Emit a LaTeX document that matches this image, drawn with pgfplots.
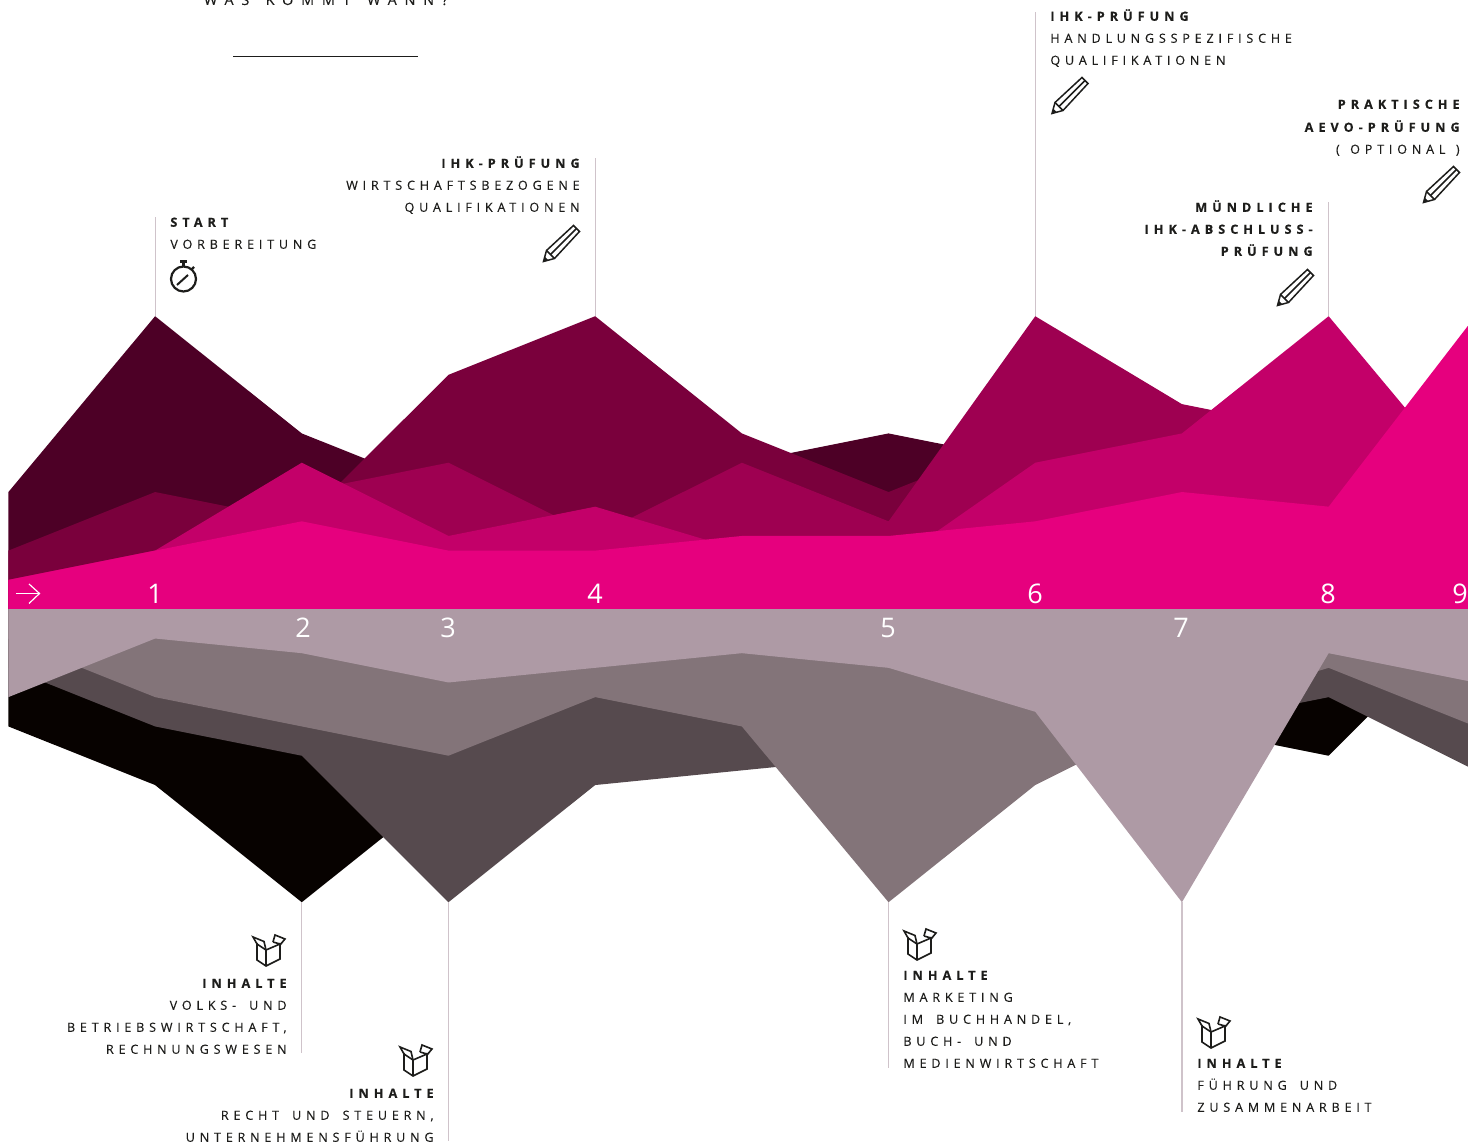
\documentclass[border=0pt]{standalone}
\usepackage{pgfplots}
\pgfplotsset{compat=1.18}
\usepackage{fontspec}
\setmainfont{Open Sans}
\newfontfamily\lbl[LetterSpace=38,FakeBold=0.2]{Open Sans}
\newfontfamily\lbb[LetterSpace=40,BoldFeatures={FakeBold=0.6}]{Open Sans}
\newfontfamily\ttl[LetterSpace=54,FakeBold=0.2]{Open Sans}
\newfontfamily\numf{Open Sans}
\definecolor{a1}{HTML}{4D0026}
\definecolor{a2}{HTML}{7A003C}
\definecolor{a3}{HTML}{9E0051}
\definecolor{a4}{HTML}{C30069}
\definecolor{a5}{HTML}{E6007E}
\definecolor{b1}{HTML}{070200}
\definecolor{b2}{HTML}{564A4E}
\definecolor{b3}{HTML}{837479}
\definecolor{b4}{HTML}{AE9AA5}
\definecolor{lead}{HTML}{CFC3CA}
\definecolor{ink}{HTML}{1D1D1B}
\newcommand\Lft[4]{\node[anchor=base west,inner sep=0pt,text=ink] at (#1,#2+4.8) {#3#4};}
\newcommand\Rgt[4]{\node[anchor=base east,inner sep=0pt,text=ink] at (#1-2,#2+4.8) {#3#4};}
\newcommand\reg{\fontsize{6.3}{8}\lbl}
\newcommand\bld{\fontsize{6.3}{8}\lbb\bfseries}
\newcommand\ws{ \hspace{2.5pt}}
\newcommand\Pencil[2]{%
  \begin{scope}[shift={(#1,#2)},line width=0.75pt,draw=ink,line join=miter]
    \draw (0,0) -- (3,-11) -- (30,-36) -- (36,-30) -- (11,-3) -- cycle;
    \draw (3,-11) -- (7,-7) -- (11,-3);
    \draw (7,-7) -- (33,-33);
    \fill[ink] (0,0) -- (1.2,-5) -- (5,-1.2) -- cycle;
  \end{scope}}
\newcommand\OpenBox[2]{%
  \begin{scope}[shift={(#1,#2)},line width=0.8pt,draw=ink,line join=miter]
    \draw (5,8) -- (5,25) -- (14,31) -- (28,24) -- (28,8);
    \draw (14,31) -- (14,15);
    \draw (5,9) -- (14,15) -- (28,9) -- (21,7);
    \draw (5,9) -- (1,2) -- (12,6.5) -- (14,15);
    \draw (21,7) -- (23,0) -- (33,4) -- (28,10);
  \end{scope}}
\begin{document}
\begin{tikzpicture}
\path[use as bounding box] (0,0) rectangle (734pt,572.5pt);
\begin{axis}[
  at={(0,0)},anchor=south west,
  scale only axis,width=734pt,height=572.5pt,
  hide axis,
  xmin=-0.05726,xmax=9.95,
  ymin=-36.570,ymax=41.585]
% upper areas, back to front
\addplot[fill=a1,draw=none] coordinates {(0,0)(0,8)(1,20)(2,12)(3,8)(4,8)(5,10)(6,12)(7,10)(8,8)(9,8)(10,8)(10,0)};
\addplot[fill=a2,draw=none] coordinates {(0,0)(0,4)(1,8)(2,6)(3,16)(4,20)(5,12)(6,8)(7,12)(8,8)(9,8)(10,8)(10,0)};
\addplot[fill=a3,draw=none] coordinates {(0,0)(0,2)(1,4)(2,8)(3,10)(4,5)(5,10)(6,6)(7,20)(8,14)(9,12)(10,8)(10,0)};
\addplot[fill=a4,draw=none] coordinates {(0,0)(0,2)(1,4)(2,10)(3,5)(4,7)(5,4)(6,3)(7,10)(8,12)(9,20)(10,8)(10,0)};
\addplot[fill=a5,draw=none] coordinates {(0,0)(0,2)(1,4)(2,6)(3,4)(4,4)(5,5)(6,5)(7,6)(8,8)(9,7)(10,20)(10,0)};
% lower areas, back to front
\addplot[fill=b1,draw=none] coordinates {(0,0)(0,-8)(1,-12)(2,-20)(3,-12)(4,-10)(5,-8)(6,-8)(7,-8)(8,-8)(9,-10)(10,0)};
\addplot[fill=b2,draw=none] coordinates {(0,0)(0,-4)(1,-8)(2,-10)(3,-20)(4,-12)(5,-11)(6,-10)(7,-10)(8,-8)(9,-6)(10,-11)(10,0)};
\addplot[fill=b3,draw=none] coordinates {(0,0)(0,-2)(1,-6)(2,-8)(3,-10)(4,-6)(5,-8)(6,-20)(7,-12)(8,-7)(9,-4)(10,-8)(10,0)};
\addplot[fill=b4,draw=none] coordinates {(0,0)(0,-6)(1,-2)(2,-3)(3,-5)(4,-4)(5,-3)(6,-4)(7,-7)(8,-20)(9,-3)(10,-5)(10,0)};
% leader lines
\addplot[lead,line width=0.55pt] coordinates {(1,20)(1,26.76)};
\addplot[lead,line width=0.55pt] coordinates {(4,20)(4,30.8)};
\addplot[lead,line width=0.55pt] coordinates {(7,20)(7,40.75)};
\addplot[lead,line width=0.55pt] coordinates {(9,20)(9,27.78)};
\addplot[lead,line width=0.55pt] coordinates {(2,-20)(2,-30.3)};
\addplot[lead,line width=0.55pt] coordinates {(3,-20)(3,-36.3)};
\addplot[lead,line width=0.55pt] coordinates {(6,-20)(6,-31.33)};
\addplot[lead,line width=0.55pt] coordinates {(8,-20)(8,-34.33)};
\end{axis}
\begin{scope}[shift={(0,572.5pt)},x=0.5pt,y=-0.5pt]
\clip (0,0) rectangle (1468,1145);
% title
\node[anchor=base,inner sep=0pt,text=ink] at (326,5) {\fontsize{7.2}{9}\ttl WAS\ws KOMMT\ws WANN?};
\draw[ink,line width=0.45pt] (233,56) -- (418,56);
% texts
\Lft{170}{222}{\bld}{START}
\Lft{170}{244}{\reg}{VORBEREITUNG}
\Rgt{582}{163}{\bld}{IHK-PRÜFUNG}
\Rgt{582}{185}{\reg}{WIRTSCHAFTSBEZOGENE}
\Rgt{582}{207}{\reg}{QUALIFIKATIONEN}
\Lft{1050}{16}{\bld}{IHK-PRÜFUNG}
\Lft{1050}{38}{\reg}{HANDLUNGSSPEZIFISCHE}
\Lft{1050}{60}{\reg}{QUALIFIKATIONEN}
\Rgt{1462}{104}{\bld}{PRAKTISCHE}
\Rgt{1462}{127}{\bld}{AEVO-PRÜFUNG}
\Rgt{1462}{149}{\reg}{( \hspace{1.2pt}OPTIONAL \hspace{1.2pt})}
\Rgt{1315}{207}{\bld}{MÜNDLICHE}
\Rgt{1315}{229}{\bld}{IHK-ABSCHLUSS-}
\Rgt{1315}{251}{\bld}{PRÜFUNG}
\Rgt{289}{983}{\bld}{INHALTE}
\Rgt{289}{1005}{\reg}{VOLKS-\ws UND}
\Rgt{289}{1027}{\reg}{BETRIEBSWIRTSCHAFT,}
\Rgt{289}{1049}{\reg}{RECHNUNGSWESEN}
\Rgt{436}{1093}{\bld}{INHALTE}
\Rgt{436}{1115}{\reg}{RECHT\ws UND\ws STEUERN,}
\Rgt{436}{1137}{\reg}{UNTERNEHMENSFÜHRUNG}
\Lft{903}{975}{\bld}{INHALTE}
\Lft{903}{997}{\reg}{MARKETING}
\Lft{903}{1019}{\reg}{IM\ws BUCHHANDEL,}
\Lft{903}{1041}{\reg}{BUCH-\ws UND}
\Lft{903}{1063}{\reg}{MEDIENWIRTSCHAFT}
\Lft{1197}{1063}{\bld}{INHALTE}
\Lft{1197}{1085}{\reg}{FÜHRUNG\ws UND}
\Lft{1197}{1107}{\reg}{ZUSAMMENARBEIT}
% numbers
\foreach \x/\y/\t in {155/604/1,595/604/4,1035/604/6,1328/604/8,1460/604/9,303/638/2,448/638/3,888/638/5,1181/638/7}
  \node[anchor=base,inner sep=0pt,text=white] at (\x,\y) {\fontsize{13.5}{15}\numf \t};
% arrow
\draw[white,line width=0.6pt] (16,593.5) -- (39,593.5);
\draw[white,line width=0.6pt] (29,584) -- (39.5,593.5) -- (29,603.5);
% stopwatch
\draw[ink,line width=1.1pt] (183.5,279) circle (12.5);
\fill[ink] (180,260) rectangle (187,263);
\fill[ink] (182,263) rectangle (185,267);
\draw[ink,line width=1.1pt] (191,270) -- (194,267);
\draw[ink,line width=1.0pt] (177,285) -- (188,275);
\Pencil{1052}{113.5}
\Pencil{543.5}{261.5}
\Pencil{1277.5}{305.5}
\Pencil{1423.5}{202.5}
\OpenBox{252}{935}
\OpenBox{399}{1045}
\OpenBox{903}{929}
\OpenBox{1197}{1017}
\end{scope}
\end{tikzpicture}
\end{document}
